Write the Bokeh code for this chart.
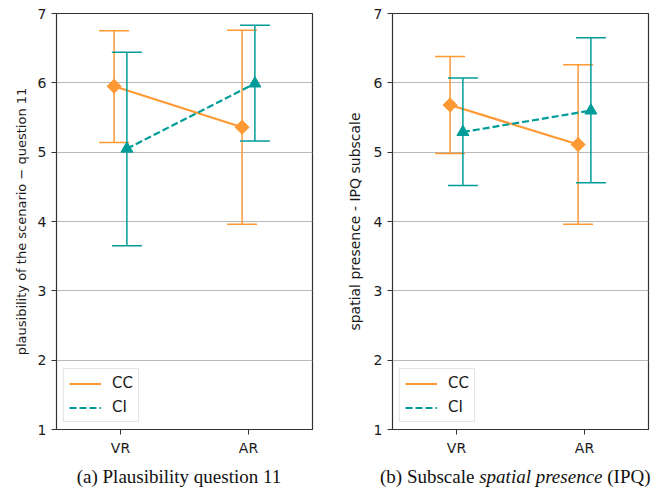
from bokeh.plotting import figure
from bokeh.layouts import row, column
from bokeh.models import ColumnDataSource, FactorRange, Div, FixedTicker, Legend, LegendItem
from bokeh.transform import dodge
from bokeh.embed import file_html
from bokeh.resources import INLINE

# ---- data ----
conditions = ["VR", "AR"]
series = ["CC", "CI"]

# (a) plausibility question 11
a_cc_mean = [5.95, 5.36]
a_cc_low = [5.14, 3.96]
a_cc_high = [6.75, 6.76]
a_ci_mean = [5.05, 5.99]
a_ci_low = [3.65, 5.16]
a_ci_high = [6.44, 6.83]

# (b) spatial presence IPQ subscale
b_cc_mean = [5.68, 5.11]
b_cc_low = [4.98, 3.96]
b_cc_high = [6.38, 6.26]
b_ci_mean = [5.29, 5.60]
b_ci_low = [4.52, 4.56]
b_ci_high = [6.07, 6.65]

y_ticks = [1, 2, 3, 4, 5, 6, 7]

ORANGE = "#ff9933"
TEAL = "#009c99"
FONT = "DejaVu Sans"
TEXT = "#1a1a1a"


def make_plot(cc_mean, cc_low, cc_high, ci_mean, ci_low, ci_high, ylabel, label_size,
              label_standoff, width, border_left, border_right):
    p = figure(x_range=FactorRange(*conditions), y_range=(1, 7), width=width, height=468,
               output_backend="svg", toolbar_location=None,
               min_border_left=border_left, min_border_right=border_right,
               min_border_top=13, min_border_bottom=39)
    p.outline_line_color = "#333333"
    p.outline_line_width = 1.2
    p.xgrid.grid_line_color = None
    p.ygrid.grid_line_color = "#b8b8b8"
    p.ygrid.grid_line_width = 1
    p.yaxis.ticker = FixedTicker(ticks=y_ticks)
    for ax in (p.xaxis[0], p.yaxis[0]):
        ax.axis_line_color = "#333333"
        ax.major_tick_line_color = "#333333"
        ax.minor_tick_line_color = None
        ax.major_tick_out = 5
        ax.major_tick_in = 0
        ax.major_label_text_font = FONT
        ax.major_label_text_font_size = "14px"
        ax.major_label_text_color = TEXT
        ax.axis_label_text_font = FONT
        ax.axis_label_text_font_style = "normal"
        ax.axis_label_text_color = TEXT
    p.yaxis.axis_label = ylabel
    p.yaxis.axis_label_text_font_size = label_size
    p.yaxis.axis_label_standoff = label_standoff

    src_cc = ColumnDataSource(dict(x=conditions, m=cc_mean, lo=cc_low, hi=cc_high))
    src_ci = ColumnDataSource(dict(x=conditions, m=ci_mean, lo=ci_low, hi=ci_high))

    items = []
    for src, off, color, dash, marker, name in (
            (src_cc, -0.05, ORANGE, "solid", "square", series[0]),
            (src_ci, 0.05, TEAL, "7 3", "triangle", series[1])):
        xd = dodge("x", off, range=p.x_range)
        p.segment(x0=xd, y0="lo", x1=xd, y1="hi", source=src, line_color=color, line_width=1.5)
        p.scatter(x=xd, y="lo", source=src, marker="dash", size=30, line_color=color, line_width=1.5)
        p.scatter(x=xd, y="hi", source=src, marker="dash", size=30, line_color=color, line_width=1.5)
        ln = p.line(x=xd, y="m", source=src, line_color=color, line_width=2.2, line_dash=dash)
        if marker == "square":
            p.scatter(x=xd, y="m", source=src, marker="square", angle=0.785398, size=10,
                      fill_color=color, line_color=color)
        else:
            p.scatter(x=xd, y="m", source=src, marker="triangle", size=12,
                      fill_color=color, line_color=color)
        items.append(LegendItem(label=name, renderers=[ln]))

    legend = Legend(items=items, location="bottom_left", margin=7, padding=5, spacing=6,
                    glyph_width=32, glyph_height=17, label_height=17, label_text_font=FONT,
                    label_text_font_size="15px", label_text_color=TEXT,
                    border_line_color="#cccccc", border_line_width=1,
                    background_fill_alpha=0.9, label_standoff=11)
    p.add_layout(legend, "center")
    return p


p1 = make_plot(a_cc_mean, a_cc_low, a_cc_high, a_ci_mean, a_ci_low, a_ci_high,
               "plausibility of the scenario \u2212 question 11", "13px", 6, 336, 56, 24)
p2 = make_plot(b_cc_mean, b_cc_low, b_cc_high, b_ci_mean, b_ci_low, b_ci_high,
               "spatial presence - IPQ subscale", "14px", 8, 314, 56, 2)

cap_style = {"font-family": "Liberation Serif", "font-size": "19px", "line-height": "18px",
             "white-space": "nowrap", "text-align": "center", "color": "#111111"}
d1 = Div(text="(a) Plausibility question 11", width=270, height=18, margin=(0, 0, 0, 44),
         styles=cap_style)
d2 = Div(text="(b) Subscale <i>spatial presence</i> (IPQ)", width=270, height=18,
         margin=(0, 0, 0, 44), styles=cap_style)

layout = row(column(p1, d1, spacing=0), column(p2, d2, spacing=0), spacing=0)

open("out.html", "w").write(file_html(layout, INLINE))
